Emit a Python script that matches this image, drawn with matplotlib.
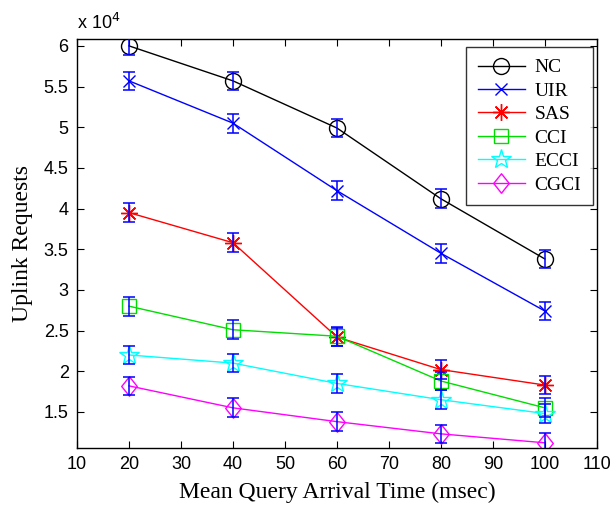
import matplotlib
matplotlib.use("Agg")
import matplotlib.pyplot as plt
from matplotlib.path import Path
from matplotlib.lines import Line2D

x_vals = [20, 40, 60, 80, 100]
nc = [60000, 55700, 49900, 41200, 33800]
uir = [55700, 50500, 42200, 34500, 27400]
sas = [39500, 35800, 24200, 20200, 18300]
cci = [28000, 25100, 24300, 18800, 15500]
ecci = [22000, 21000, 18500, 16500, 14800]
cgci = [18200, 15500, 13800, 12300, 11200]
err = [1150, 1150, 1150, 1150, 1150]

series_names = ["NC", "UIR", "SAS", "CCI", "ECCI", "CGCI"]
x_ticks = [10, 20, 30, 40, 50, 60, 70, 80, 90, 100, 110]
y_ticks = [15000, 20000, 25000, 30000, 35000, 40000, 45000, 50000, 55000, 60000]
y_tick_labels = ["1.5", "2", "2.5", "3", "3.5", "4", "4.5", "5", "5.5", "6"]

diamond = Path([(0, 1), (0.8, 0), (0, -1), (-0.8, 0), (0, 1)],
               [Path.MOVETO, Path.LINETO, Path.LINETO, Path.LINETO, Path.CLOSEPOLY])

styles = [
    dict(color="black", marker="o", ms=11.5),
    dict(color="blue", marker="x", ms=9),
    dict(color="red", marker=(8, 2, 0), ms=12),
    dict(color="#00dd00", marker="s", ms=10),
    dict(color="cyan", marker="*", ms=15),
    dict(color="magenta", marker=diamond, ms=14),
]

fig = plt.figure(figsize=(6.16, 5.05), dpi=100)
ax = fig.add_axes([0.125, 0.113, 0.844, 0.810])

data = [nc, uir, sas, cci, ecci, cgci]
handles = []
for name, ys, st in zip(series_names, data, styles):
    ax.plot(x_vals, ys, color=st["color"], lw=1.0, marker=st["marker"],
            ms=st["ms"], mfc="none", mec=st["color"], mew=1.0, zorder=2)
    ax.errorbar(x_vals, ys, yerr=err, fmt="none", ecolor="blue",
                elinewidth=1.1, capsize=4, capthick=1.1, zorder=3)
    handles.append(Line2D([0], [0], color=st["color"], lw=1.0,
                          marker=st["marker"], ms=st["ms"], mfc="none",
                          mec=st["color"], mew=1.0, label=name))

ax.set_xlim(10, 110)
ax.set_ylim(10570, 60860)
ax.set_xticks(x_ticks)
ax.set_yticks(y_ticks)
ax.set_yticklabels(y_tick_labels)
ax.tick_params(direction="in", top=True, right=True, length=5, width=0.8,
               labelsize=13, pad=6)
for lab in ax.get_xticklabels() + ax.get_yticklabels():
    lab.set_fontfamily("Liberation Sans")
for sp in ax.spines.values():
    sp.set_linewidth(1.0)

ax.text(0.0, 1.015, "x 10$^4$", transform=ax.transAxes, ha="left", va="bottom",
        fontsize=13, family="Liberation Sans")

ax.set_xlabel("Mean Query Arrival Time (msec)", family="Liberation Serif",
              fontsize=17, labelpad=6)
ax.set_ylabel("Uplink Requests", family="Liberation Serif", fontsize=17,
              labelpad=8)

leg = ax.legend(handles=handles, loc="upper right", bbox_to_anchor=(0.992, 0.980),
                borderaxespad=0.0,
                frameon=True, fancybox=False, edgecolor="black",
                prop=dict(family="Liberation Serif", size=14),
                handlelength=2.4, labelspacing=0.3, borderpad=0.6,
                handletextpad=0.5)
leg.get_frame().set_linewidth(1.0)

fig.savefig("out.png", dpi=100)
